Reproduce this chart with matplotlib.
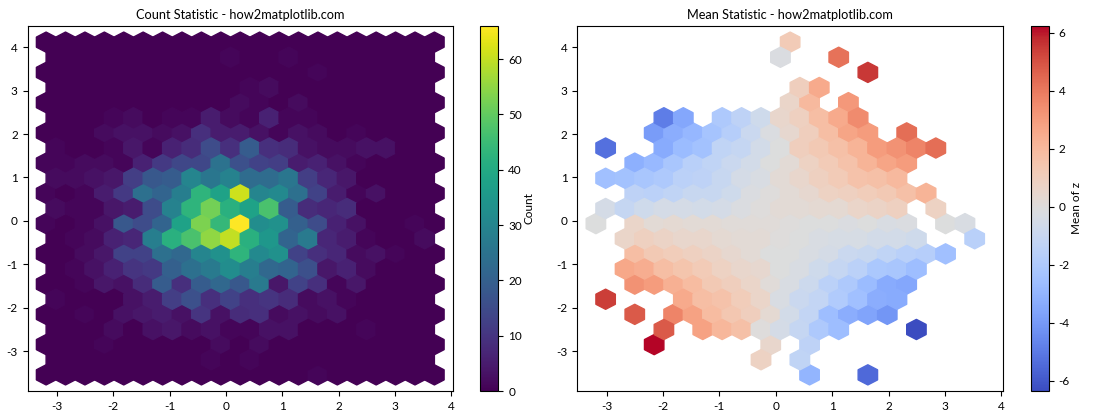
import numpy as np
import matplotlib
matplotlib.use("Agg")
import matplotlib.pyplot as plt

plt.rcParams['font.family'] = ['Lato', 'DejaVu Sans']
plt.rcParams['axes.unicode_minus'] = False

_ = np.nan

# hexagon lattice the values sit on (21 and 20 cells on alternating rows)
x_range = (-3.19, 3.70)
y_range = (-3.548, 4.118)
grid_size = 20

# counts, top row first
count_rows = [
    [0] * 21,
    [0, 0, 0, 0, 0, 0, 0, 0, 0, 1, 0, 0, 1, 0, 0, 0, 0, 0, 0, 0],
    [0, 0, 0, 0, 0, 0, 0, 0, 0, 0, 0, 0, 0, 0, 1, 0, 0, 0, 0, 0, 0],
    [0, 0, 0, 0, 0, 0, 0, 0, 0, 0, 1, 2, 0, 0, 0, 0, 0, 0, 0, 0],
    [0, 0, 0, 0, 0, 0, 0, 0, 0, 0, 2, 1, 0, 2, 0, 0, 0, 0, 0, 0, 0],
    [0, 0, 0, 1, 2, 0, 1, 1, 5, 2, 1, 6, 1, 1, 0, 0, 0, 0, 0, 0],
    [0, 0, 0, 2, 3, 3, 2, 3, 9, 5, 5, 3, 1, 3, 2, 0, 1, 0, 0, 0, 0],
    [1, 0, 0, 1, 4, 1, 6, 8, 15, 9, 19, 9, 8, 3, 2, 2, 3, 3, 0, 0],
    [1, 1, 2, 2, 1, 6, 11, 14, 14, 25, 16, 13, 12, 5, 6, 3, 1, 0, 0, 0, 0],
    [2, 2, 3, 4, 12, 18, 19, 30, 26, 29, 23, 23, 26, 12, 7, 4, 0, 0, 0, 0],
    [1, 0, 1, 5, 11, 24, 21, 28, 43, 38, 61, 30, 31, 24, 13, 5, 1, 3, 0, 0, 0],
    [2, 1, 1, 4, 5, 15, 29, 43, 52, 42, 38, 47, 19, 8, 7, 8, 0, 0, 0, 0],
    [1, 0, 1, 3, 18, 15, 21, 38, 53, 44, 66, 32, 33, 20, 15, 6, 3, 0, 0, 1, 0],
    [0, 1, 2, 6, 7, 28, 42, 47, 55, 60, 42, 35, 21, 27, 7, 5, 1, 0, 0, 2],
    [0, 0, 2, 4, 13, 13, 24, 22, 30, 33, 43, 31, 33, 13, 9, 7, 2, 3, 1, 0, 0],
    [0, 1, 3, 6, 10, 11, 20, 24, 27, 32, 28, 22, 21, 16, 4, 6, 2, 0, 0, 0],
    [0, 0, 1, 4, 3, 8, 19, 9, 19, 22, 18, 27, 4, 13, 9, 1, 4, 0, 0, 0, 0],
    [1, 0, 0, 0, 3, 5, 12, 16, 9, 13, 9, 10, 8, 2, 3, 1, 0, 0, 0, 0],
    [0, 0, 1, 0, 3, 4, 5, 3, 10, 3, 8, 9, 2, 3, 2, 3, 0, 0, 0, 0, 0],
    [0, 0, 0, 2, 0, 3, 4, 2, 3, 1, 1, 3, 3, 0, 0, 0, 1, 0, 0, 0],
    [0, 0, 0, 1, 0, 0, 0, 0, 0, 2, 0, 2, 0, 0, 0, 0, 0, 0, 0, 0, 0],
    [0, 0, 0, 0, 0, 0, 0, 0, 1, 0, 1, 0, 0, 0, 0, 0, 0, 0, 0, 0],
    [0, 0, 0, 0, 0, 0, 0, 0, 0, 0, 0, 0, 0, 0, 1, 0, 0, 0, 0, 0, 0],
]

# mean of z, same layout, nan where a cell is empty
mean_rows = [
    [_, _, _, _, _, _, _, _, _, _, 1.2, _, _, _, _, _, _, _, _, _, _],
    [_, _, _, _, _, _, _, _, _, -0.2, _, _, 4.2, _, _, _, _, _, _, _],
    [_, _, _, _, _, _, _, _, _, _, _, _, _, _, 5.5, _, _, _, _, _, _],
    [_, _, _, _, _, _, _, _, _, _, 1.0, 2.5, _, _, _, _, _, _, _, _],
    [_, _, _, _, _, _, _, _, _, _, 0.6, 2.0, _, 3.1, _, _, _, _, _, _, _],
    [_, _, _, -4.9, -3.5, _, -2.0, -1.4, -0.7, 0.5, 0.9, 1.8, 2.5, 3.5, _, _, _, _, _, _],
    [_, _, _, -3.9, -3.3, -2.9, -2.3, -1.7, -0.9, -0.2, 0.4, 1.0, 1.8, 2.7, 3.0, _, 4.3, _, _, _, _],
    [-5.3, _, _, -3.4, -2.7, -2.4, -1.3, -1.1, -0.6, -0.1, 1.0, 1.3, 1.7, 2.2, 3.0, 3.3, 3.7, 4.3, _, _],
    [_, _, -3.2, -2.8, -2.2, -1.6, -1.3, -0.9, -0.6, -0.1, 0.2, 0.8, 1.2, 1.6, 2.2, 2.7, 3.0, _, _, _, _],
    [-2.5, -2.4, -2.2, -2.0, -1.5, -1.4, -1.0, -0.5, -0.3, 0.2, 0.5, 0.9, 1.2, 1.6, 1.7, 2.0, _, _, _, _],
    [_, _, -1.4, -1.5, -1.3, -1.0, -1.0, -0.7, -0.2, 0.0, 0.2, 0.4, 0.8, 0.9, 1.1, 1.3, 1.7, 2.2, _, _, _],
    [-0.5, -1.1, -0.7, -0.5, -0.5, -0.6, -0.5, -0.2, 0.0, 0.2, 0.2, 0.3, 0.3, 0.6, 0.7, 0.9, _, 0.8, _, _],
    [-0.1, _, 0.6, 0.2, 0.3, 0.2, 0.2, 0.1, 0.1, 0.1, 0.0, -0.1, -0.1, -0.2, -0.1, -0.3, -0.2, _, -0.1, -0.3, _],
    [_, 0.6, 0.9, 0.7, 0.5, 0.5, 0.3, 0.2, 0.2, 0.0, -0.1, -0.3, -0.4, -0.4, -0.6, -0.6, -0.7, _, _, -1.6],
    [_, _, 1.8, 1.3, 1.1, 0.9, 0.7, 0.4, 0.2, -0.1, -0.1, -0.3, -0.5, -0.9, -1.0, -1.3, -1.6, -1.7, -2.5, _, _],
    [_, 2.6, 2.4, 1.8, 1.5, 1.2, 0.8, 0.5, 0.4, -0.1, -0.3, -0.7, -1.1, -1.5, -2.1, -2.2, -2.6, _, _, _],
    [_, _, 3.3, 3.0, 2.3, 1.9, 1.3, 1.0, 0.6, 0.1, -0.3, -0.8, -1.5, -2.0, -2.7, -3.4, -3.5, _, _, _, _],
    [5.4, _, _, _, 2.5, 1.8, 1.6, 1.1, 0.6, -0.3, -0.9, -1.2, -1.9, -2.5, -3.3, -3.4, _, _, _, _],
    [_, _, 4.8, _, 3.7, 2.8, 1.9, 1.4, 1.0, 0.3, -0.6, -1.2, -2.6, -3.3, -3.6, -4.1, _, _, _, _, _],
    [_, _, _, 4.8, _, 2.8, 2.1, 1.7, 0.0, -0.5, -1.1, -2.0, -2.6, _, _, _, -6.35, _, _, _],
    [_, _, _, 6.23, _, _, _, _, _, 0.5, _, -1.4, _, _, _, _, _, _, _, _, _],
    [_, _, _, _, _, _, _, _, 0.8, _, -1.3, _, _, _, _, _, _, _, _, _],
    [_, _, _, _, _, _, _, _, _, _, _, -3.0, _, _, -5.5, _, _, _, _, _, _],
]


def cells_from_rows(rows):
    # turn the rows into points on the hexbin lattice, skipping empty cells
    sx = (x_range[1] - x_range[0]) / grid_size
    sy = (y_range[1] - y_range[0]) / int(grid_size / np.sqrt(3))
    xs, ys, vals = [], [], []
    for r, row in enumerate(rows):
        for i, v in enumerate(row):
            if np.isnan(v):
                continue
            xs.append(x_range[0] + (i + 0.5 * (r % 2)) * sx)
            ys.append(y_range[1] - r * sy / 2)
            vals.append(v)
    return xs, ys, vals


fig = plt.figure(figsize=(11.2, 4.2), dpi=100)
W, H = 1120.0, 420.0


def box(left, right, top=26, bottom=391):
    return [left / W, 1 - bottom / H, (right - left) / W, (bottom - top) / H]


ax1 = fig.add_axes(box(27.5, 453))
cax1 = fig.add_axes(box(480, 498.5))
ax2 = fig.add_axes(box(577.3, 1003))
cax2 = fig.add_axes(box(1030.7, 1048.7))

extent = (x_range[0], x_range[1], y_range[0], y_range[1])

xs, ys, vals = cells_from_rows(count_rows)
hb1 = ax1.hexbin(xs, ys, C=vals, gridsize=grid_size, extent=extent,
                 reduce_C_function=np.sum, cmap='viridis')
ax1.set_title('Count Statistic - how2matplotlib.com', fontsize=9.2, pad=5)
cb1 = fig.colorbar(hb1, cax=cax1)
cb1.set_label('Count', fontsize=8.5, labelpad=1)

xs, ys, vals = cells_from_rows(mean_rows)
hb2 = ax2.hexbin(xs, ys, C=vals, gridsize=grid_size, extent=extent,
                 reduce_C_function=np.mean, cmap='coolwarm')
ax2.set_title('Mean Statistic - how2matplotlib.com', fontsize=9.2, pad=5)
cb2 = fig.colorbar(hb2, cax=cax2)
cb2.set_label('Mean of z', fontsize=8.5, labelpad=1)

for ax in (ax1, ax2):
    ax.set_xlim(-3.52, 4.03)
    ax.set_ylim(-3.92, 4.49)
    ax.set_xticks(range(-3, 5))
    ax.set_yticks(range(-3, 5))
    ax.tick_params(labelsize=8.5)
cb1.ax.tick_params(labelsize=8.5)
cb2.ax.tick_params(labelsize=8.5)

fig.savefig('out.png', dpi=100)
